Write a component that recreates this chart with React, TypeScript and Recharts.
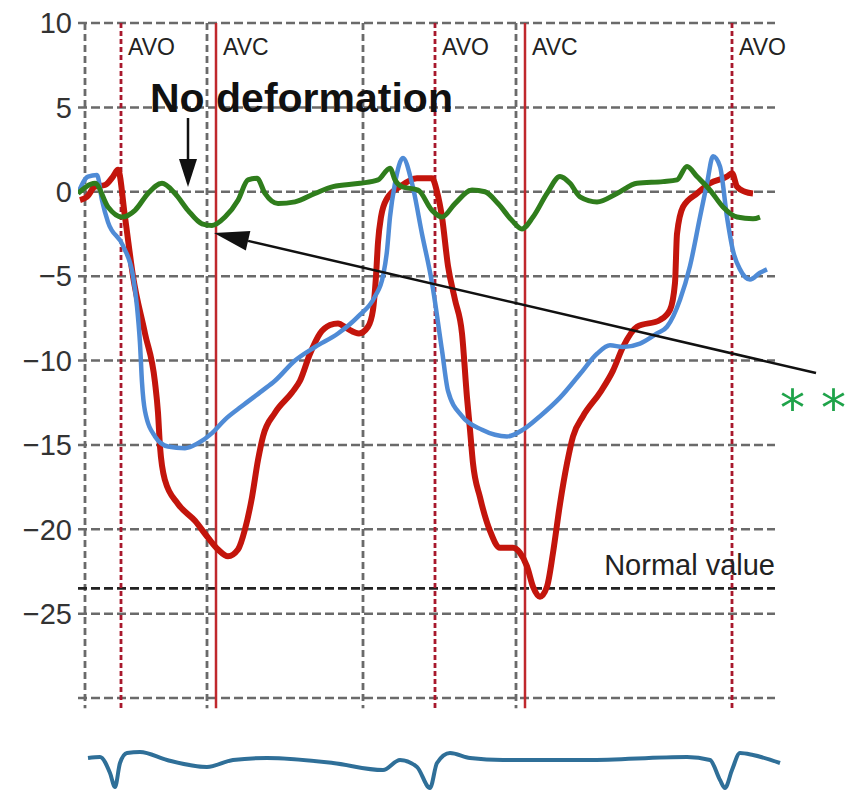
import React from 'react'
import { LineChart, Line, XAxis, YAxis, CartesianGrid, ReferenceLine, ReferenceDot } from 'recharts'

// time axis in frames, strain in %
const redStrain: [number, number][] = [
  [-5, -0.5], [2, -0.3], [10, 0.3], [20, 0.4], [28, 0.9], [33, 1.3], [40, -1.5], [48, -5.0],
  [60, -8.4], [70, -11.3], [73, -13.1], [75, -15.1], [80, -17.1], [93, -18.5], [110, -19.5],
  [123, -20.5], [133, -21.2], [143, -21.6], [153, -21.2], [160, -20.0], [167, -18.1], [173, -15.9],
  [178, -14.5], [190, -13.1], [207, -11.9], [215, -11.2], [225, -9.6], [235, -8.4], [245, -7.9],
  [253, -7.8], [262, -8.1], [274, -8.4], [283, -8.0], [288, -7.0], [291, -5.0], [293, -3.0],
  [296, -1.5], [302, -0.4], [315, 0.3], [332, 0.8], [347, 0.8], [352, 0.0], [357, -1.5],
  [363, -4.4], [370, -6.4], [377, -8.4], [382, -12.2], [385, -14.1], [388, -16.1], [395, -18.1],
  [405, -20.1], [415, -21.1], [428, -21.1], [435, -21.4], [442, -22.2], [448, -23.4], [455, -24.0],
  [462, -23.4], [468, -21.4], [475, -18.5], [482, -16.1], [488, -14.5], [498, -13.3], [515, -11.9],
  [528, -10.6], [538, -9.2], [552, -8.0], [575, -7.6], [585, -7.0], [590, -5.4], [592, -2.5],
  [598, -0.9], [612, -0.1], [625, 0.5], [642, 0.9], [647, 1.1], [652, 0.3], [660, 0.0], [668, -0.1],
]

const blueStrain: [number, number][] = [
  [-7, -0.1], [3, 0.9], [12, 1.0], [17, -0.5], [23, -1.8], [38, -3.2], [48, -5.0], [52, -6.8],
  [55, -9.0], [57, -11.3], [60, -13.0], [70, -14.5], [83, -15.1], [100, -15.2], [113, -14.9],
  [127, -14.3], [140, -13.5], [157, -12.7], [177, -11.8], [190, -11.2], [210, -10.0], [230, -9.2],
  [253, -8.4], [273, -7.4], [290, -6.2], [298, -5.0], [302, -3.5], [305, -1.5], [310, 0.5],
  [318, 2.0], [327, 0.5], [337, -2.5], [347, -5.4], [357, -9.4], [363, -11.8], [377, -13.3],
  [397, -14.1], [410, -14.4], [422, -14.5], [438, -14.1], [455, -13.3], [475, -12.2], [495, -10.8],
  [512, -9.6], [525, -9.1], [538, -9.2], [555, -9.0], [572, -8.4], [582, -8.0], [595, -6.4],
  [605, -4.4], [615, -1.5], [622, 0.5], [628, 2.1], [635, 1.5], [642, -1.5], [648, -3.5],
  [655, -4.6], [665, -5.2], [675, -4.8], [682, -4.6],
]

const greenStrain: [number, number][] = [
  [-7, -0.1], [10, 0.5], [23, -0.9], [37, -1.5], [50, -1.1], [63, -0.1], [77, 0.5], [90, -0.1],
  [103, -1.1], [117, -1.9], [127, -2.0], [140, -1.5], [153, -0.5], [163, 0.7], [172, 0.8],
  [180, -0.1], [193, -0.7], [210, -0.6], [230, -0.1], [248, 0.3], [275, 0.5], [293, 0.7],
  [305, 1.4], [310, 0.7], [317, 0.3], [333, 0.1], [347, -1.1], [357, -1.5], [370, -0.7],
  [387, 0.1], [400, 0.0], [413, -0.7], [427, -1.7], [437, -2.2], [448, -1.5], [462, -0.1],
  [475, 0.9], [485, 0.5], [495, -0.3], [512, -0.6], [532, -0.1], [552, 0.5], [578, 0.6],
  [592, 0.7], [602, 1.5], [612, 0.9], [625, 0.1], [638, -0.9], [652, -1.5], [668, -1.6], [675, -1.5],
]

const ecgTrace: [number, number][] = [
  [3, 0.2], [15, 0.3], [25, -1.3], [30, -2.7], [35, -0.3], [42, 0.7], [55, 0.8], [82, 0.0],
  [122, -0.7], [148, 0.0], [182, 0.2], [248, -0.3], [298, -1.0], [315, 0.0], [332, -0.7],
  [345, -2.8], [352, -0.3], [365, 0.7], [385, 0.2], [418, 0.0], [502, 0.0], [602, 0.3],
  [625, 0.0], [635, -2.0], [640, -2.8], [647, -1.0], [655, 0.7], [668, 0.5], [695, -0.3],
]

const strainTicks = [10, 5, 0, -5, -10, -15, -20, -25, -30]
const gridTimes = [0, 122, 278, 431]
const avoTimes = [36, 350, 647]
const avcTimes = [131, 440]
const normalValue = -23.5

const toPoints = (arr: [number, number][]) => arr.map(([t, v]) => ({ t, v }))

const FONT = '"Liberation Sans", Arial, sans-serif'

const markerShape = (label: string, color: string, dash?: string, width = 2.5) => (p: any) => (
  <g>
    <line x1={p.x1} y1={p.y1} x2={p.x2} y2={p.y2} stroke={color} strokeWidth={width} strokeDasharray={dash} />
    {label && (
      <text x={p.x1 + 7} y={p.y1 + 32} fontSize={23} fill="#222" fontFamily={FONT}>
        {label}
      </text>
    )}
  </g>
)

const arrowShape = (headLen: number, headHalf: number) => (p: any) => {
  const dx = p.x2 - p.x1
  const dy = p.y2 - p.y1
  const len = Math.sqrt(dx * dx + dy * dy)
  const ux = dx / len
  const uy = dy / len
  const bx = p.x2 - ux * headLen
  const by = p.y2 - uy * headLen
  const pts = `${p.x2},${p.y2} ${bx - uy * headHalf},${by + ux * headHalf} ${bx + uy * headHalf},${by - ux * headHalf}`
  return (
    <g>
      <line x1={p.x1} y1={p.y1} x2={bx} y2={by} stroke="#111" strokeWidth={2.5} />
      <polygon points={pts} fill="#111" />
    </g>
  )
}

const textShape = (value: string, size: number, color: string, weight: string, anchor: string, family = FONT) => (p: any) => (
  <text x={p.cx} y={p.cy} fontSize={size} fill={color} fontWeight={weight} textAnchor={anchor} fontFamily={family}>
    {value}
  </text>
)

const fmt = (v: number) => (v === -30 ? '' : v < 0 ? `\u2212${Math.abs(v)}` : `${v}`)

export default function App() {
  return (
    <div style={{ position: 'absolute', left: 0, top: 0, width: 856, height: 794, background: '#fff', fontFamily: FONT }}>
      <LineChart width={856} height={720} margin={{ top: 23, right: 81, bottom: 22, left: 0 }}>
        <CartesianGrid vertical={false} stroke="#6a6a6a" strokeWidth={2.5} strokeDasharray="9 4" />
        <XAxis type="number" dataKey="t" domain={[-7, 690]} hide allowDataOverflow />
        <YAxis
          type="number"
          dataKey="v"
          domain={[-30, 10]}
          ticks={strainTicks}
          width={78}
          axisLine={false}
          tickLine={false}
          tickSize={4}
          tickMargin={2}
          tickFormatter={fmt}
          tick={{ fill: '#333', fontSize: 29, fontFamily: FONT }}
          allowDataOverflow
        />
        {gridTimes.map((t) => (
          <ReferenceLine key={`g${t}`} segment={[{ x: t, y: 10 }, { x: t, y: -30.6 }]} ifOverflow="visible" shape={markerShape('', '#6a6a6a', '7 4', 2.8)} />
        ))}
        <ReferenceLine y={normalValue} stroke="#222" strokeWidth={2.8} strokeDasharray="9 4" />
        <ReferenceDot x={690} y={-22.71} r={0} ifOverflow="visible" shape={textShape('Normal value', 29, '#222', 'normal', 'end')} />
        {avoTimes.map((t) => (
          <ReferenceLine key={`o${t}`} segment={[{ x: t, y: 10 }, { x: t, y: -30.6 }]} ifOverflow="visible" shape={markerShape('AVO', '#a8182c', '5 3', 2.8)} />
        ))}
        {avcTimes.map((t) => (
          <ReferenceLine key={`c${t}`} segment={[{ x: t, y: 10 }, { x: t, y: -30.6 }]} ifOverflow="visible" shape={markerShape('AVC', '#c0282d')} />
        ))}
        <Line data={toPoints(redStrain)} dataKey="v" type="monotone" stroke="#c3150c" strokeWidth={6} dot={false} isAnimationActive={false} />
        <Line data={toPoints(blueStrain)} dataKey="v" type="monotone" stroke="#4f8bd6" strokeWidth={4.5} dot={false} isAnimationActive={false} />
        <Line data={toPoints(greenStrain)} dataKey="v" type="monotone" stroke="#2f7d1c" strokeWidth={5} dot={false} isAnimationActive={false} />
        <ReferenceDot x={65} y={4.73} r={0} ifOverflow="visible" shape={textShape('No deformation', 41, '#111', 'bold', 'start')} />
        <ReferenceLine segment={[{ x: 103, y: 4.37 }, { x: 103, y: 0.28 }]} ifOverflow="visible" shape={arrowShape(28, 9)} />
        <ReferenceLine segment={[{ x: 731, y: -10.74 }, { x: 129, y: -2.44 }]} ifOverflow="visible" shape={arrowShape(35, 10)} />
        <ReferenceDot x={695} y={-13.82} r={0} ifOverflow="visible" shape={textShape('* *', 50, '#1fa34a', 'normal', 'start', '"DejaVu Sans", sans-serif')} />
      </LineChart>
      <div style={{ position: 'absolute', left: 0, top: 734 }}>
        <LineChart width={856} height={60} margin={{ top: 0, right: 76, bottom: 0, left: 78 }}>
          <XAxis type="number" dataKey="t" domain={[-7, 695]} hide />
          <YAxis type="number" dataKey="v" domain={[-3.4, 2.6]} hide />
          <Line data={toPoints(ecgTrace)} dataKey="v" type="monotone" stroke="#2f6f98" strokeWidth={4} dot={false} isAnimationActive={false} />
        </LineChart>
      </div>
    </div>
  )
}
